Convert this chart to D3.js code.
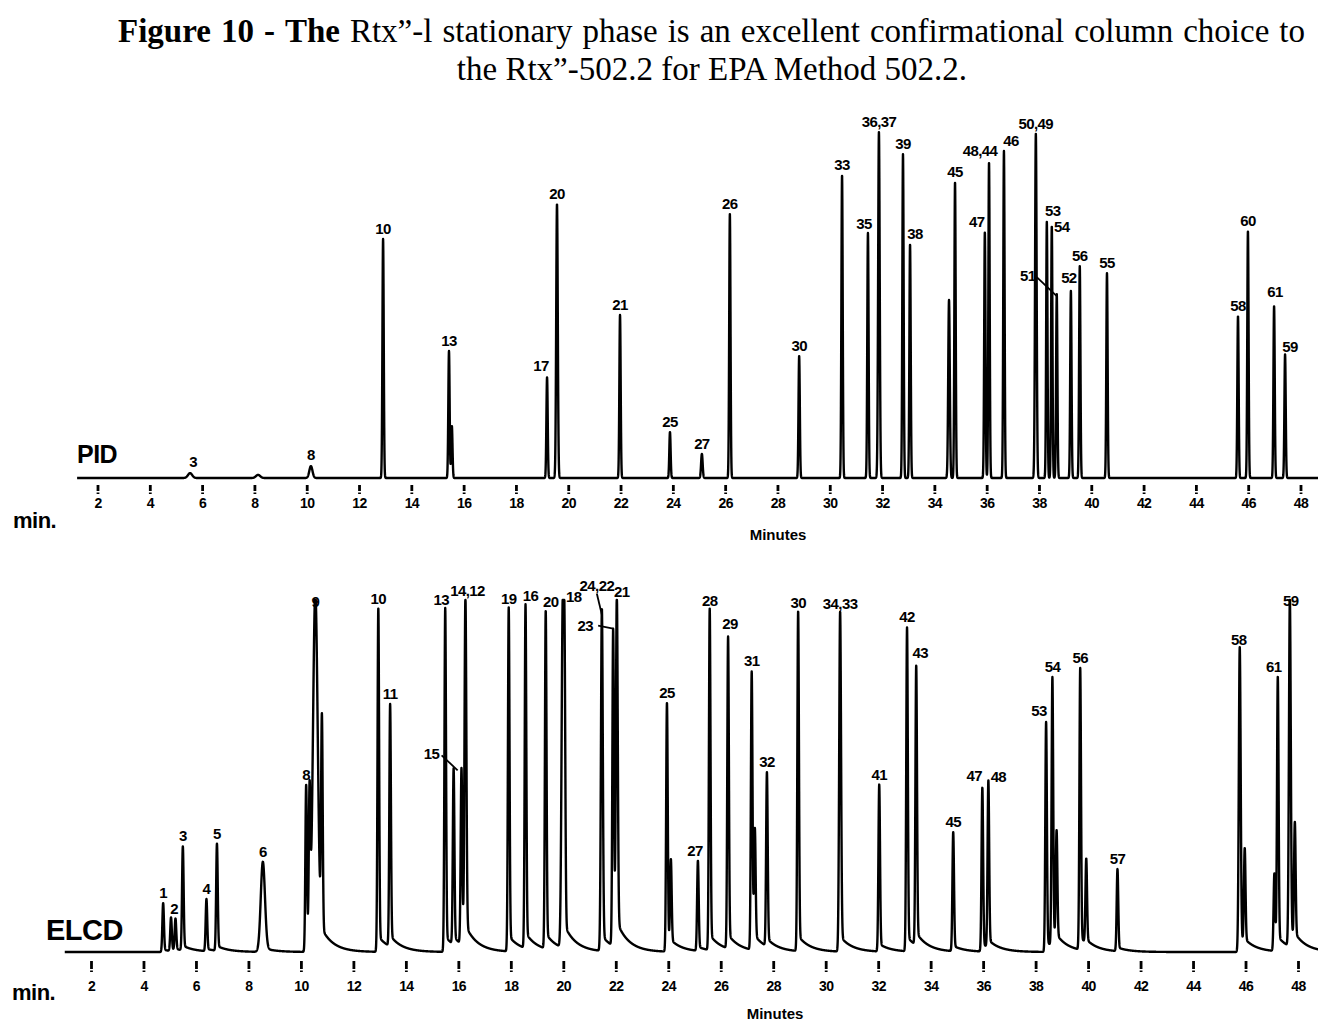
<!DOCTYPE html>
<html>
<head>
<meta charset="utf-8">
<script src="https://cdn.jsdelivr.net/npm/d3@7"></script>
<style>
  body { margin: 0; background: #fff; }
</style>
</head>
<body>
<div id="chart"></div>
<script>
"use strict";

// Retention axis ticks (minutes)
var tickMinutes = [2, 4, 6, 8, 10, 12, 14, 16, 18, 20, 22, 24, 26, 28, 30, 32, 34, 36, 38, 40, 42, 44, 46, 48];

// PID trace: peak labels, retention times (min), heights (% of full scale), widths (sigma, min)
var pidLabels  = ["3", "", "8", "10", "13", "", "17", "20", "21", "25", "27", "26", "30", "33", "35", "36,37", "39", "38", "", "45", "47", "48,44", "46", "50,49", "53", "54", "51", "52", "56", "55", "58", "60", "61", "59"];
var pidTimes   = [5.54, 8.14, 10.16, 12.92, 15.44, 15.55, 19.19, 19.57, 21.98, 23.89, 25.11, 26.18, 28.83, 30.47, 31.46, 31.88, 32.80, 33.07, 34.56, 34.79, 35.93, 36.09, 36.66, 37.88, 38.30, 38.49, 38.68, 39.22, 39.56, 40.60, 45.61, 45.99, 46.99, 47.41];
var pidHeights = [1.4, 0.9, 3.4, 68.5, 36.4, 14.9, 28.9, 78.5, 46.7, 13.2, 6.9, 75.6, 35.0, 86.8, 70.2, 99.1, 92.8, 67.0, 51.0, 84.8, 70.5, 90.5, 93.7, 98.6, 73.4, 72.2, 52.7, 53.6, 60.7, 58.7, 46.4, 70.8, 49.3, 35.5];
var pidWidths  = [0.08, 0.08, 0.06, 0.025, 0.025, 0.025, 0.025, 0.03, 0.025, 0.025, 0.03, 0.025, 0.025, 0.025, 0.025, 0.03, 0.025, 0.025, 0.03, 0.025, 0.025, 0.025, 0.025, 0.03, 0.025, 0.025, 0.025, 0.025, 0.025, 0.025, 0.025, 0.025, 0.025, 0.025];

// ELCD trace
var elcdLabels  = ["1", "2", "", "3", "4", "5", "6", "8", "", "9", "", "10", "11", "13", "15", "", "14,12", "19", "16", "20", "18", "", "24,22", "23", "21", "25", "", "27", "28", "29", "31", "", "32", "30", "34,33", "41", "42", "43", "45", "47", "48", "53", "54", "", "56", "", "57", "58", "", "", "61", "59", ""];
var elcdTimes   = [4.75, 5.05, 5.22, 5.50, 6.40, 6.80, 8.55, 10.20, 10.33, 10.55, 10.80, 12.95, 13.40, 15.50, 15.82, 16.12, 16.27, 17.92, 18.56, 19.33, 19.98, 20.05, 21.47, 21.90, 22.04, 23.95, 24.10, 25.13, 25.58, 26.28, 27.18, 27.30, 27.76, 28.95, 30.55, 32.04, 33.10, 33.45, 34.86, 35.97, 36.20, 38.40, 38.64, 38.80, 39.70, 39.93, 41.12, 45.78, 45.97, 47.10, 47.23, 47.69, 47.88];
var elcdHeights = [13.9, 9.5, 9.0, 29.5, 14.8, 30.4, 25.6, 47.4, 42.0, 100, 62.0, 97.7, 68.8, 97.7, 50.0, 50.0, 97.7, 97.7, 97.7, 96.0, 97.2, 60.0, 97.2, 90.0, 97.2, 70.7, 24.0, 25.6, 97.0, 88.6, 79.0, 32.0, 49.4, 96.6, 96.6, 47.4, 92.0, 79.5, 33.8, 46.6, 47.4, 65.3, 76.4, 31.0, 80.0, 24.0, 23.3, 86.6, 27.0, 22.0, 77.3, 98.6, 33.0];
var elcdWidths  = [0.03, 0.03, 0.03, 0.03, 0.03, 0.03, 0.08, 0.03, 0.03, 0.09, 0.03, 0.03, 0.03, 0.03, 0.03, 0.03, 0.035, 0.03, 0.03, 0.03, 0.045, 0.03, 0.035, 0.03, 0.035, 0.03, 0.03, 0.03, 0.03, 0.03, 0.03, 0.03, 0.03, 0.03, 0.035, 0.03, 0.03, 0.03, 0.03, 0.03, 0.03, 0.03, 0.03, 0.03, 0.03, 0.03, 0.03, 0.035, 0.03, 0.03, 0.03, 0.035, 0.03];

// Title words (bold flag)
var titleLine1 = [["Figure", true], ["10", true], ["-", true], ["The", true], ["Rtx”-l", false], ["stationary", false],
  ["phase", false], ["is", false], ["an", false], ["excellent", false], ["confirmational", false], ["column", false],
  ["choice", false], ["to", false]];
var titleLine2 = "the Rtx”-502.2 for EPA Method 502.2.";

// Label nudges (px) relative to the peak apex, default [0,-5]
var pidNudge = {"3": [3, -6], "8": [0, -6], "17": [-6, -6], "35": [-4, -4], "38": [5, -5], "47": [-8, -5],
  "48,44": [-9, -6], "46": [7, -5], "53": [6, -6], "54": [10, 6], "51": [-29, -13], "52": [-2, -8],
  "61": [1, -9], "59": [5, -2]};
var elcdNudge = {"2": [3, -3], "9": [0, 7], "10": [0, -4], "13": [-4, -3], "14,12": [2, -4], "19": [0, -3], "15": [-22, -9],
  "16": [5, -3], "20": [5, -4], "18": [11, 2], "24,22": [-5, -18], "23": [-28, 2], "21": [5, -3], "27": [-3, -5],
  "28": [0, -3], "29": [2, -7], "30": [0, -3], "34,33": [0, -3], "43": [4, -7], "47": [-8, -6], "48": [10, 2],
  "53": [-7, -6], "58": [-1, -2], "61": [-4, -4], "59": [1, 6]};
// Leader lines: [start dx, start dy from label, end dx, end dy from apex]
var pidLeaders = {"51": [9, -4, 0, 2]};
var elcdLeaders = {"15": [10, -4, 4, 2], "24,22": [0, 3, 0, 6], "23": [13, -5, 0, 0]};

var W = 1318, H = 1022;
var svg = d3.select('#chart').append('svg')
  .attr('width', W)
  .attr('height', H)
  .style('font-family', '"Liberation Sans", Arial, sans-serif');

// Title, line 1 justified between 118 and 1305
var title = svg.append('g').style('font-family', '"Liberation Serif", "Times New Roman", serif');
var words = title.selectAll('text.w')
  .data(titleLine1)
  .enter()
  .append('text')
    .attr('class', 'w')
    .attr('y', 42)
    .attr('font-size', 33)
    .attr('font-weight', d => d[1] ? 'bold' : 'normal')
    .text(d => d[0]);
var widths = [];
words.each(function() { widths.push(this.getComputedTextLength()); });
var gap = (1305 - 118 - d3.sum(widths)) / (widths.length - 1);
var cursor = 118;
words.attr('x', (d, i) => { var p = cursor; cursor += widths[i] + gap; return p; });

title.append('text')
  .attr('x', 712)
  .attr('y', 80)
  .attr('font-size', 33)
  .attr('text-anchor', 'middle')
  .text(titleLine2);

// Sum of peaks at time t; ELCD peaks get an exponential tail
function valueAt(t, cfg) {
  var v = 0;
  for (var i = 0; i < cfg.times.length; i++) {
    var dt = t - cfg.times[i], s = cfg.widths[i];
    if (dt < -6 * s) continue;
    var g = Math.exp(-dt * dt / (2 * s * s));
    if (dt <= 0 || cfg.tailAmp === 0) v += cfg.heights[i] * g;
    else v += cfg.heights[i] * ((1 - cfg.tailAmp) * g + cfg.tailAmp * Math.exp(-dt / cfg.tailTau));
  }
  return Math.min(v, 100);
}

function drawPanel(cfg) {
  var g = svg.append('g');
  var x = d3.scaleLinear().domain([2, 48]).range(cfg.xRange);
  var y = d3.scaleLinear().domain([0, 100]).range([cfg.base, cfg.top]);

  var data = d3.range(cfg.tStart, cfg.tEnd, 0.004).map(t => [t, valueAt(t, cfg)]);
  g.append('path')
    .datum(data)
    .attr('fill', 'none')
    .attr('stroke', '#000')
    .attr('stroke-width', 2.4)
    .attr('stroke-linejoin', 'round')
    .attr('d', d3.line().x(d => x(d[0])).y(d => y(d[1])));

  // Peak labels, placed from the apex of the drawn trace
  var labelled = cfg.labels.map((l, i) => ({l: l, t: cfg.times[i], h: valueAt(cfg.times[i], cfg)}))
    .filter(d => d.l !== "");
  var nudge = d => cfg.nudge[d.l] || [0, -5];
  g.append('g')
    .selectAll('text')
    .data(labelled)
    .enter()
    .append('text')
      .attr('x', d => x(d.t) + nudge(d)[0])
      .attr('y', d => y(d.h) + nudge(d)[1])
      .attr('text-anchor', 'middle')
      .attr('font-size', 15)
      .attr('font-weight', 'bold')
      .attr('letter-spacing', -0.6)
      .text(d => d.l);

  // Leader lines
  g.append('g')
    .selectAll('line')
    .data(labelled.filter(d => cfg.leaders[d.l]))
    .enter()
    .append('line')
      .attr('x1', d => x(d.t) + nudge(d)[0] + cfg.leaders[d.l][0])
      .attr('y1', d => y(d.h) + nudge(d)[1] + cfg.leaders[d.l][1])
      .attr('x2', d => x(d.t) + cfg.leaders[d.l][2])
      .attr('y2', d => y(d.h) + cfg.leaders[d.l][3])
      .attr('stroke', '#000')
      .attr('stroke-width', 1.8);

  // Time axis (ticks detached from the trace)
  var axis = g.append('g')
    .attr('transform', `translate(0, ${cfg.axisY})`)
    .call(d3.axisBottom(x).tickValues(tickMinutes).tickSize(cfg.tickSize).tickPadding(cfg.tickPad).tickFormat(d3.format('d')));
  axis.select('.domain').remove();
  axis.selectAll('.tick line')
    .attr('stroke', '#000')
    .attr('stroke-width', 2.8)
    .attr('stroke-dasharray', (cfg.tickSize - 3) + ',1.5,3');
  axis.selectAll('.tick text')
    .attr('fill', '#000')
    .attr('font-size', 14)
    .attr('font-weight', 'bold')
    .attr('letter-spacing', -0.6)
    .style('font-family', '"Liberation Sans", Arial, sans-serif');

  g.append('text')
    .attr('x', cfg.minX)
    .attr('y', cfg.minY)
    .attr('font-size', 22)
    .attr('font-weight', 'bold')
    .attr('letter-spacing', -0.5)
    .text('min.');

  g.append('text')
    .attr('x', cfg.minutesX)
    .attr('y', cfg.minutesY)
    .attr('text-anchor', 'middle')
    .attr('font-size', 15)
    .attr('font-weight', 'bold')
    .text('Minutes');

  g.append('text')
    .attr('x', cfg.nameX)
    .attr('y', cfg.nameY)
    .attr('font-size', cfg.nameSize)
    .attr('font-weight', 'bold')
    .attr('letter-spacing', -0.5)
    .text(cfg.name);
}

drawPanel({
  name: 'PID', nameX: 77, nameY: 463, nameSize: 25,
  labels: pidLabels, times: pidTimes, heights: pidHeights, widths: pidWidths,
  nudge: pidNudge, leaders: pidLeaders,
  xRange: [97.5, 1300.5], base: 478, top: 129,
  tStart: 1.22, tEnd: 48.7, tailAmp: 0, tailTau: 1,
  axisY: 485, tickSize: 9, tickPad: 4,
  minX: 13, minY: 528, minutesX: 778, minutesY: 540
});

drawPanel({
  name: 'ELCD', nameX: 46, nameY: 940, nameSize: 29,
  labels: elcdLabels, times: elcdTimes, heights: elcdHeights, widths: elcdWidths,
  nudge: elcdNudge, leaders: elcdLeaders,
  xRange: [91, 1298], base: 952, top: 600,
  tStart: 1.0, tEnd: 48.8, tailAmp: 0.045, tailTau: 0.45,
  axisY: 961, tickSize: 11, tickPad: 9,
  minX: 12, minY: 1000, minutesX: 775, minutesY: 1019
});
</script>
</body>
</html>
